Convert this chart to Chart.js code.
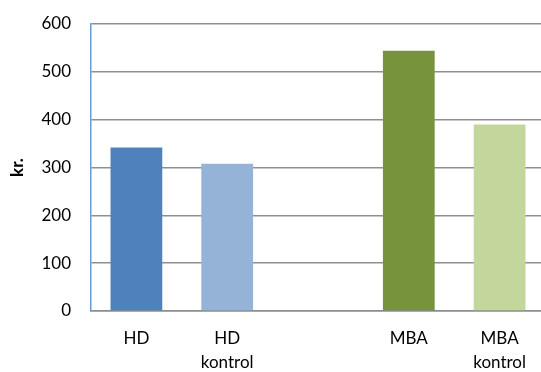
<!DOCTYPE html>
<html>
<head>
<meta charset="utf-8">
<script src="https://cdn.jsdelivr.net/npm/chart.js@4"></script>
<style>
  html, body { margin: 0; padding: 0; background: #fff; overflow: hidden; }
  #wrap { width: 541px; height: 372px; overflow: hidden; }
</style>
</head>
<body>
<div id="wrap"><canvas id="kurser" width="545" height="372"></canvas></div>
<script>
const categories = [["HD"], ["HD", "kontrol"], [""], ["MBA"], ["MBA", "kontrol"]]
const values = [342, 308, null, 544, 390]
const barColors = ["#4f81bd", "#95b3d7", "#ffffff", "#77933c", "#c3d69b"]
const yTicks = [0, 100, 200, 300, 400, 500, 600]

const font = "Lato, 'Open Sans', sans-serif"

const ctx = document.getElementById("kurser")

new Chart(ctx, {
  type: "bar",
  data: {
    labels: categories,
    datasets: [{
      label: "kr.",
      data: values,
      backgroundColor: barColors,
      borderWidth: 0,
      barPercentage: 0.57,
      categoryPercentage: 1
    }]
  },
  options: {
    responsive: false,
    animation: false,
    layout: { padding: { top: 24, right: 0, left: 0, bottom: 0 } },
    plugins: { legend: { display: false }, tooltip: { enabled: false } },
    scales: {
      x: {
        grid: { display: false, drawTicks: false },
        border: { color: "#8c8c8c", width: 1.5 },
        ticks: {
          color: "#000",
          font: { family: font, size: 17, lineHeight: 1.4 },
          padding: 16,
          maxRotation: 0,
          autoSkip: false
        },
        afterFit: axis => { axis.height = 61 }
      },
      y: {
        min: 0,
        max: 600,
        afterBuildTicks: axis => { axis.ticks = yTicks.map(v => ({ value: v })) },
        grid: { color: "#8f8f8f", lineWidth: 1.5, drawTicks: false },
        border: { color: "#6a98cf", width: 1.5 },
        ticks: {
          color: "#000",
          font: { family: font, size: 17 },
          padding: 20
        },
        title: {
          display: true,
          text: "kr.",
          color: "#000",
          font: { family: font, size: 17, weight: "bold" },
          padding: { top: 7, bottom: 0 }
        },
        afterFit: axis => {
          axis.width = 91
          axis.paddingTop = 0
          axis.paddingBottom = 0
        }
      }
    }
  }
})
</script>
</body>
</html>
